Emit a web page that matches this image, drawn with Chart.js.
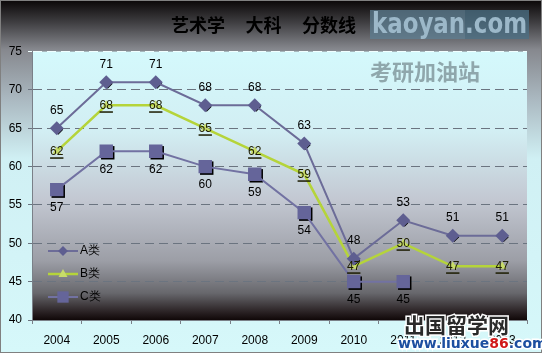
<!DOCTYPE html>
<html>
<head>
<meta charset="utf-8">
<script src="https://cdn.jsdelivr.net/npm/chart.js@4"></script>
<style>
  html, body { margin: 0; padding: 0; background: #d4f6f9; }
  #wrap { width: 542px; height: 353px; }
</style>
</head>
<body>
<div id="wrap"><canvas id="scoreChart" width="542" height="353"></canvas></div>
<script>
// 艺术学 大科 分数线 — line chart

const years = ['2004', '2005', '2006', '2007', '2008', '2009', '2010', '2011', '2012', '2013'];
const seriesA = [65, 71, 71, 68, 68, 63, 48, 53, 51, 51];
const seriesB = [62, 68, 68, 65, 62, 59, 47, 50, 47, 47];
const seriesC = [57, 62, 62, 60, 59, 54, 45, 45, null, null];
const yTicks = [40, 45, 50, 55, 60, 65, 70, 75];

const FONT = 'Liberation Sans';

// backgrounds: outer frame + plot area gradients
const bgPlugin = {
  id: 'bg',
  beforeDraw(chart) {
    const { ctx, width, height, chartArea: a } = chart;
    ctx.save();
    let g = ctx.createLinearGradient(0, 0, 0, height);
    g.addColorStop(0, '#0a0607');
    g.addColorStop(0.06, '#3c3b3e');
    g.addColorStop(0.14, '#86888e');
    g.addColorStop(0.28, '#aab8c0');
    g.addColorStop(0.45, '#d0f0f4');
    g.addColorStop(1, '#d6f8fa');
    ctx.fillStyle = g;
    ctx.fillRect(0, 0, width, height);

    g = ctx.createLinearGradient(0, a.top, 0, a.bottom);
    g.addColorStop(0, '#d4f9fc');
    g.addColorStop(0.3, '#d2eef3');
    g.addColorStop(0.55, '#c3c8d2');
    g.addColorStop(0.78, '#9c9ea6');
    g.addColorStop(0.9, '#67676c');
    g.addColorStop(0.97, '#2a2224');
    g.addColorStop(1, '#100808');
    ctx.fillStyle = g;
    ctx.fillRect(a.left, a.top, a.right - a.left, a.bottom - a.top);

    ctx.strokeStyle = '#808080';
    ctx.lineWidth = 1;
    ctx.strokeRect(0.5, 0.5, width - 1, height - 1);
    ctx.restore();
  }
};

function shape(ctx, style, x, y, r) {
  ctx.beginPath();
  if (style === 'rectRot') {
    const s = r * Math.SQRT1_2;
    ctx.moveTo(x - s, y); ctx.lineTo(x, y + s); ctx.lineTo(x + s, y); ctx.lineTo(x, y - s);
  } else if (style === 'rect') {
    const s = r * Math.SQRT1_2;
    ctx.rect(x - s, y - s, 2 * s, 2 * s);
  } else {
    ctx.moveTo(x, y - r); ctx.lineTo(x + r * 0.9, y + r * 0.6); ctx.lineTo(x - r * 0.9, y + r * 0.6);
  }
  ctx.closePath();
}

// dark drop shadow under markers
const shadowPlugin = {
  id: 'shadows',
  beforeDatasetDraw(chart, args) {
    const ds = chart.data.datasets[args.index];
    if (ds.pointStyle === 'triangle') return;
    const { ctx } = chart;
    ctx.save();
    ctx.fillStyle = '#000';
    args.meta.data.forEach((p, i) => {
      if (ds.data[i] == null) return;
      shape(ctx, ds.pointStyle, p.x + 1.5, p.y + 1.5, ds.pointRadius);
      ctx.fill();
    });
    ctx.restore();
  }
};

// value labels: A above, B on the point (underlined), C below
const labelPlugin = {
  id: 'valueLabels',
  afterDatasetsDraw(chart) {
    const { ctx } = chart;
    ctx.save();
    ctx.font = '12px ' + FONT;
    ctx.textAlign = 'center';
    ctx.textBaseline = 'middle';
    chart.data.datasets.forEach((ds, di) => {
      const meta = chart.getDatasetMeta(di);
      meta.data.forEach((p, i) => {
        const v = ds.data[i];
        if (v == null) return;
        const t = String(v);
        let y = p.y;
        if (di === 0) y = p.y - 18;
        if (di === 2) y = p.y + 18;
        ctx.fillStyle = di === 1 ? '#1c1c00' : '#000';
        ctx.fillText(t, p.x, y);
        if (di === 1) {
          const w = ctx.measureText(t).width;
          ctx.fillRect(p.x - w / 2, y + 6, w, 1.5);
        }
      });
    });
    ctx.restore();
  }
};

// legend inside the plot area, lower left
const legendPlugin = {
  id: 'insideLegend',
  afterDraw(chart) {
    const { ctx } = chart;
    const ys = [251, 274, 297];
    ctx.save();
    chart.data.datasets.forEach((ds, i) => {
      const y = ys[i];
      ctx.strokeStyle = ds.borderColor;
      ctx.lineWidth = ds.borderWidth;
      ctx.beginPath(); ctx.moveTo(48, y); ctx.lineTo(78, y); ctx.stroke();
      ctx.fillStyle = ds.pointBackgroundColor;
      shape(ctx, ds.pointStyle, 63, y, ds.pointStyle === 'rect' ? 8 : ds.pointRadius);
      ctx.fill();
      ctx.fillStyle = '#000';
      ctx.font = '12px ' + FONT;
      ctx.textBaseline = 'middle';
      ctx.fillText(ds.label, 80, y);
    });
    ctx.restore();
  }
};

// site watermarks printed on the picture
const markPlugin = {
  id: 'marks',
  afterDraw(chart) {
    const { ctx } = chart;
    ctx.save();
    ctx.globalAlpha = 0.75;
    ctx.fillStyle = '#5d7f93';
    ctx.fillRect(370, 10, 95, 29);
    ctx.fillStyle = '#4b7086';
    ctx.fillRect(465, 10, 64, 29);
    ctx.globalAlpha = 1;
    ctx.fillStyle = '#9cb8c9';
    ctx.font = 'bold 28px "DejaVu Sans Condensed"';
    ctx.textBaseline = 'middle';
    ctx.fillText('kaoyan.com', 372, 26, 155);
    ctx.fillStyle = 'rgba(120,140,146,0.75)';
    ctx.font = 'bold 22px "Noto Sans CJK SC"';
    ctx.fillText('考研加油站', 370, 72);

    ctx.font = 'bold 21px "Noto Sans CJK SC"';
    ctx.lineWidth = 3;
    ctx.strokeStyle = '#ffffff';
    ctx.strokeText('出国留学网', 404, 325);
    ctx.fillStyle = '#2a2a2a';
    ctx.fillText('出国留学网', 404, 325);
    ctx.font = 'bold 14px "DejaVu Sans"';
    const parts = [['www.liuxue', '#1c4fa0'], ['86', '#d01818'], ['.com', '#1c4fa0']];
    let x = 398;
    parts.forEach(([t, c]) => {
      ctx.strokeText(t, x, 344);
      ctx.fillStyle = c;
      ctx.fillText(t, x, 344);
      x += ctx.measureText(t).width;
    });
    ctx.restore();
  }
};

const ctx1 = document.getElementById('scoreChart').getContext('2d');
new Chart(ctx1, {
  type: 'line',
  data: {
    labels: years,
    datasets: [
      {
        label: 'A类',
        data: seriesA,
        borderColor: '#6c6c98',
        borderWidth: 2,
        pointStyle: 'rectRot',
        pointRadius: 7,
        pointBackgroundColor: '#5e5e90',
        pointBorderWidth: 0,
        tension: 0,
      },
      {
        label: 'B类',
        data: seriesB,
        borderColor: '#b5d43a',
        borderWidth: 2.5,
        pointStyle: 'triangle',
        pointRadius: 5,
        pointBackgroundColor: '#c8dc6a',
        pointBorderWidth: 0,
        tension: 0,
      },
      {
        label: 'C类',
        data: seriesC,
        borderColor: '#7272a2',
        borderWidth: 2,
        pointStyle: 'rect',
        pointRadius: 9.5,
        pointBackgroundColor: '#65659a',
        pointBorderWidth: 0,
        tension: 0,
      },
    ],
  },
  options: {
    responsive: false,
    animation: false,
    devicePixelRatio: 1,
    layout: { padding: { left: 0, right: 15, top: 0, bottom: 0 } },
    plugins: {
      legend: { display: false },
      tooltip: { enabled: false },
      title: {
        display: true,
        text: '艺术学     大科     分数线',
        color: '#000',
        font: { family: '"Noto Sans CJK SC"', size: 18, lineHeight: 1.2 },
        padding: { top: 14, bottom: 16 },
      },
    },
    scales: {
      x: {
        offset: true,
        afterFit: s => { s.height = 33; },
        grid: { drawOnChartArea: false, offset: true, tickLength: 4, color: '#7a8088' },
        border: { color: '#7a8088' },
        ticks: { color: '#000', padding: 9, font: { family: FONT, size: 12 }, maxRotation: 0, autoSkip: false },
      },
      y: {
        min: 40,
        max: 75,
        afterFit: s => { s.width = 32; },
        afterBuildTicks: s => { s.ticks = yTicks.map(v => ({ value: v })); },
        grid: {
          tickLength: 4,
          tickBorderDash: [],
          color: c => (c.tick && c.tick.value === 75 ? '#f0ffff' : '#6b7480'),
        },
        border: { color: '#7a8088', dash: [9, 5] },
        ticks: { color: '#000', padding: 6, font: { family: FONT, size: 12 } },
      },
    },
  },
  plugins: [bgPlugin, shadowPlugin, labelPlugin, legendPlugin, markPlugin],
});
</script>
</body>
</html>
